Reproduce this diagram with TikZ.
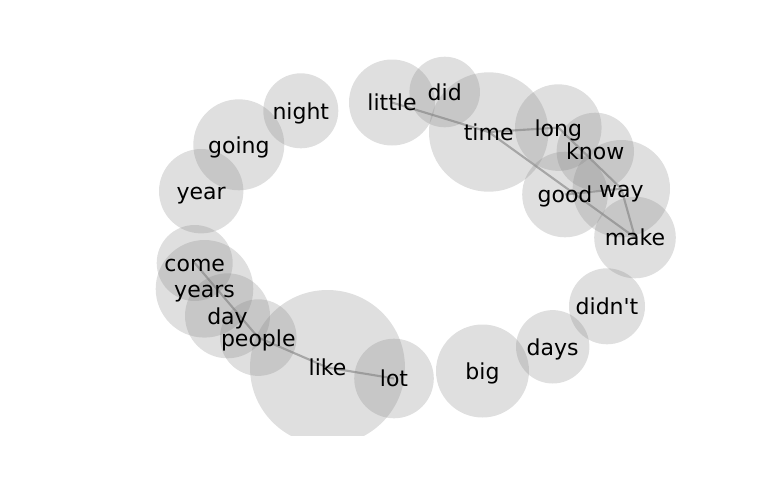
\documentclass[tikz,border=0pt]{standalone}
\usepackage{fontspec}
\usepackage{tikz}
\newfontfamily\wordfont{DejaVu Sans}

\tikzset{
  bubble/.style={circle, fill=gray, fill opacity=0.25, inner sep=0pt, minimum size=#1*1.5pt},
  link/.style={draw=gray, line width=1.6pt, draw opacity=0.6},
  word/.style={font=\wordfont\fontsize{16.5}{20}\selectfont, anchor=base, yshift=-6.3pt, inner sep=0pt, text=black}
}

\begin{document}
\begin{tikzpicture}[x=0.75pt,y=0.75pt,yscale=-1,xscale=1]
\useasboundingbox (0,0) rectangle (768,500);

%Bubbles (radius in px)
\begin{scope}
\clip (0,0) rectangle (768,435);
\node[bubble=37.5] (night)  at (300.8,110.8) {};
\node[bubble=45.5] (going)  at (238.8,144.8) {};
\node[bubble=42.2] (year)   at (201.2,191.2) {};
\node[bubble=38]   (come)   at (194.7,263) {};
\node[bubble=48.8] (years)  at (204.5,288.8) {};
\node[bubble=42.5] (day)    at (227.5,315.8) {};
\node[bubble=38.3] (people) at (258.3,337.6) {};
\node[bubble=77.5] (like)   at (327.5,367.5) {};
\node[bubble=39.8] (lot)    at (394,378.5) {};
\node[bubble=46.5] (big)    at (482.5,371) {};
\node[bubble=36.7] (days)   at (552.7,346.8) {};
\node[bubble=38]   (didnt)  at (607,306.3) {};
\node[bubble=40.8] (make)   at (635,237.5) {};
\node[bubble=48.7] (way)    at (621.3,188.7) {};
\node[bubble=38.7] (know)   at (595.3,151.4) {};
\node[bubble=42.8] (good)   at (565,194.5) {};
\node[bubble=43.3] (long)   at (558.3,127.6) {};
\node[bubble=59.7] (time)   at (488.7,132) {};
\node[bubble=35.3] (did)    at (444.7,92) {};
\node[bubble=43]   (little) at (392,102.5) {};
\end{scope}

%Links
\draw[link] (little.center) -- (time.center);
\draw[link] (time.center) -- (long.center);
\draw[link] (time.center) -- (make.center);
\draw[link] (long.center) -- (way.center);
\draw[link] (good.center) -- (way.center);
\draw[link] (way.center) -- (make.center);
\draw[link] (come.center) -- (people.center);
\draw[link] (people.center) -- (like.center);
\draw[link] (like.center) -- (lot.center);

% Text Nodes
\node[word] (t-night)  at (night)  {night};
\node[word] (t-going)  at (going)  {going};
\node[word] (t-year)   at (year)   {year};
\node[word] (t-come)   at (come)   {come};
\node[word] (t-years)  at (years)  {years};
\node[word] (t-day)    at (day)    {day};
\node[word] (t-people) at (people) {people};
\node[word] (t-like)   at (like)   {like};
\node[word] (t-lot)    at (lot)    {lot};
\node[word] (t-big)    at (big)    {big};
\node[word] (t-days)   at (days)   {days};
\node[word] (t-didnt)  at (didnt)  {didn't};
\node[word] (t-make)   at (make)   {make};
\node[word] (t-way)    at (way)    {way};
\node[word] (t-know)   at (know)   {know};
\node[word] (t-good)   at (good)   {good};
\node[word] (t-long)   at (long)   {long};
\node[word] (t-time)   at (time)   {time};
\node[word] (t-did)    at (did)    {did};
\node[word] (t-little) at (little) {little};

\end{tikzpicture}
\end{document}
